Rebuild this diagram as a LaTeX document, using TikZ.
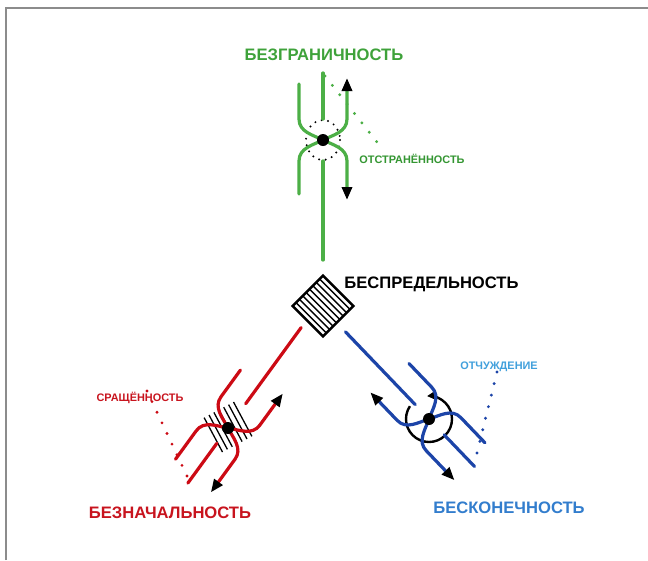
\documentclass[tikz,border=0pt]{standalone}
\usepackage{fontspec}
\setmainfont{Liberation Sans}
\usetikzlibrary{arrows.meta,calc}
\definecolor{gline}{RGB}{76,175,70}
\definecolor{gtext}{RGB}{62,162,58}
\definecolor{gsmall}{RGB}{52,150,50}
\definecolor{rline}{RGB}{204,10,20}
\definecolor{rtext}{RGB}{200,20,30}
\definecolor{bline}{RGB}{28,68,168}
\definecolor{btext}{RGB}{50,125,205}
\definecolor{bsmall}{RGB}{65,160,220}
\definecolor{framegray}{RGB}{140,140,140}
\tikzset{
  armline/.style={line width=3.2pt, line cap=round},
  dbltips/.style={arrows={Triangle[length=13pt,width=10pt,color=black]-Triangle[length=13pt,width=10pt,color=black]}},
  dotnode/.style={circle, fill=black, inner sep=0pt, minimum size=12pt},
  bigl/.style={font=\fontsize{16.6}{18}\selectfont\bfseries, anchor=base, inner sep=0pt},
  smalll/.style={font=\fontsize{10.9}{12}\selectfont\bfseries, anchor=base, inner sep=0pt},
  sqnode/.style={draw=black, line width=2.5pt, minimum size=43pt, inner sep=0pt, outer sep=0pt, rotate=45},
  hatchline/.style={black, line width=1.3pt},
  dotline/.style={line width=3.2pt, line cap=round, dash pattern=on 0pt off #1},
}
\newcommand\armsunit[1]{%
  \draw[armline,#1] (-24,-56) -- (-24,-21) .. controls (-24,-8) and (-10,-5) .. (0,0) .. controls (-10,5) and (-24,8) .. (-24,21) -- (-24,54);
  \draw[armline,#1,dbltips] (24,-62) -- (24,-21) .. controls (24,-8) and (10,-5) .. (0,0) .. controls (10,5) and (24,8) .. (24,21) -- (24,60);
}
\begin{document}
\begin{tikzpicture}[x=1pt,y=-1pt]
\useasboundingbox (0,0) rectangle (648,560);
\fill[white] (0,0) rectangle (648,560);
\draw[framegray, line width=1.5pt] (6,560) -- (6,8) -- (648,8);

% centre square
\node[sqnode] (sq) at (323,306) {};
\foreach \t in {1,...,8}
  \draw[hatchline] ($(sq.north west)!\t/9!(sq.north east)$) -- ($(sq.south west)!\t/9!(sq.south east)$);
\node[bigl] (tsq) at (431.5,288) {БЕСПРЕДЕЛЬНОСТЬ};

% green (top)
\coordinate (gd1) at (325,76);
\coordinate (gd2) at (384,151);
\draw[gline, dotline=11.93pt] (gd1) -- (gd2);
\begin{scope}[shift={(323,140)}, x={(1pt,0pt)}, y={(0pt,-1pt)}]
  \draw[black, line width=2.2pt, line cap=round, dash pattern=on 0pt off 6.6pt] (0,0) ellipse[x radius=17, y radius=20];
  \coordinate (g-a1) at (0,-67); \coordinate (g-a2) at (0,-21);
  \coordinate (g-t1) at (0,21); \coordinate (g-t2) at (0,120);
  \draw[armline,gline] (g-a1) -- (g-a2);
  \draw[armline,gline] (g-t1) -- (g-t2);
  \armsunit{gline}
  \node[dotnode] (gdot) at (0,0) {};
\end{scope}
\node[bigl, text=gtext] (tg) at (324,60) {БЕЗГРАНИЧНОСТЬ};
\node[smalll, text=gsmall] (tgs) at (412,163) {ОТСТРАНЁННОСТЬ};

% red (lower left)
\coordinate (rd1) at (147,391);
\coordinate (rd2) at (187,476);
\draw[rline, dotline=11.74pt] (rd1) -- (rd2);
\coordinate (rc) at (228,427);
\foreach \k in {-3,...,3}
  \draw[hatchline] ($(rc)+(\k*4.9,-\k*2.6)+(-9.2,-17.2)$) -- ($(rc)+(\k*4.9,-\k*2.6)+(9.2,17.2)$);
\begin{scope}[shift={(228,428)}, x={(0.81pt,-0.59pt)}, y={(0.59pt,0.81pt)}]
  \coordinate (r-a1) at (0,-68); \coordinate (r-a2) at (0,-19);
  \coordinate (r-t1) at (0,30); \coordinate (r-t2) at (0,124);
  \draw[armline,rline] (r-a1) -- (r-a2);
  \draw[armline,rline] (r-t1) -- (r-t2);
  \armsunit{rline}
  \node[dotnode] (rdot) at (0,0) {};
\end{scope}
\node[bigl, text=rtext] (tr) at (170,518) {БЕЗНАЧАЛЬНОСТЬ};
\node[smalll, text=rtext] (trs) at (140,401) {СРАЩЁННОСТЬ};

% blue (lower right)
\coordinate (bd1) at (497,372);
\coordinate (bd2) at (477,453);
\draw[bline, dotline=11.91pt] (bd1) -- (bd2);
\coordinate (bc) at (429,419);
\draw[black, line width=2.4pt, -{Triangle[length=9pt,width=9pt]}] ($(bc)+(214:23)$) arc[start angle=214, end angle=-95, radius=23];
\begin{scope}[shift={(429,419)}, x={(-0.72pt,-0.69pt)}, y={(-0.69pt,0.72pt)}]
  \coordinate (b-a1) at (0,-66); \coordinate (b-a2) at (0,-22);
  \coordinate (b-t1) at (0,20); \coordinate (b-t2) at (0,121);
  \draw[armline,bline] (b-a1) -- (b-a2);
  \draw[armline,bline] (b-t1) -- (b-t2);
  \armsunit{bline}
  \node[dotnode] (bdot) at (0,0) {};
\end{scope}
\node[bigl, text=btext] (tb) at (509,513) {БЕСКОНЕЧНОСТЬ};
\node[smalll, text=bsmall] (tbs) at (499,369) {ОТЧУЖДЕНИЕ};
\end{tikzpicture}
\end{document}
